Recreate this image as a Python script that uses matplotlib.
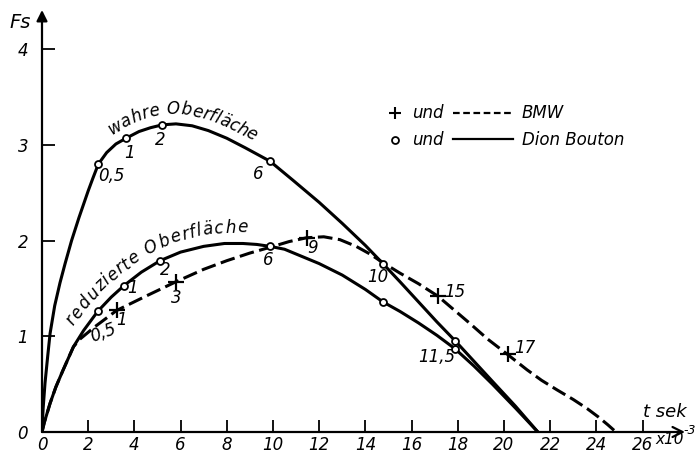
import matplotlib
matplotlib.use("Agg")
import matplotlib.pyplot as plt
import numpy as np
from matplotlib.font_manager import FontProperties
from matplotlib.textpath import TextToPath
from matplotlib.transforms import IdentityTransform

# =========================
# DATA
# =========================

# wahre Oberflaeche, Dion Bouton (solid)
wahre_t = [0, 0.05, 0.13, 0.25, 0.35, 0.55, 0.78, 1.0, 1.28, 1.6, 2.0, 2.2,
           2.44, 2.8, 3.2, 3.64, 4.2, 4.7, 5.21, 5.8, 6.5, 7.2, 8.0, 8.8,
           9.87, 10.87, 12.0, 13.0, 14.0, 14.76, 15.5, 16.3, 17.1, 17.9,
           18.7, 19.5, 20.5, 21.47]
wahre_f = [0, 0.25, 0.51, 0.80, 1.03, 1.32, 1.56, 1.76, 2.00, 2.24, 2.52, 2.65,
           2.80, 2.92, 3.01, 3.07, 3.14, 3.18, 3.21, 3.22, 3.20, 3.15, 3.07, 2.97,
           2.83, 2.63, 2.40, 2.18, 1.95, 1.76, 1.57, 1.36, 1.15, 0.95,
           0.74, 0.53, 0.27, 0]

# reduzierte Oberflaeche, Dion Bouton (solid)
red_t = [0, 0.1, 0.35, 0.6, 0.9, 1.36, 1.8, 2.41, 3.0, 3.55, 4.3, 5.11, 6.0,
         7.0, 7.9, 8.7, 9.3, 9.87, 10.5, 11.2, 12.0, 13.0, 14.0, 14.76, 15.5,
         16.3, 17.1, 17.88, 18.7, 19.5, 20.5, 21.47]
red_f = [0, 0.10, 0.30, 0.47, 0.64, 0.89, 1.06, 1.26, 1.41, 1.53, 1.67, 1.79, 1.88,
         1.94, 1.97, 1.97, 1.96, 1.94, 1.91, 1.84, 1.76, 1.64, 1.49, 1.36, 1.26,
         1.14, 1.01, 0.87, 0.69, 0.50, 0.25, 0]

# BMW (dashed)
bmw_t = [0, 0.1, 0.35, 0.6, 0.9, 1.36, 1.64, 2.29, 3.23, 4.5, 5.8, 7.0, 8.0,
         9.0, 9.87, 10.7, 11.46, 12.2, 12.9, 13.6, 14.2, 14.76, 15.5, 16.3,
         17.14, 18.5, 19.3, 20.16, 21.0, 21.63, 22.3, 23.0, 23.6, 24.1, 24.5,
         24.85]
bmw_f = [0, 0.10, 0.30, 0.47, 0.64, 0.89, 0.97, 1.10, 1.27, 1.42, 1.57, 1.70, 1.79,
         1.87, 1.93, 1.99, 2.03, 2.04, 2.01, 1.94, 1.86, 1.77, 1.66, 1.55,
         1.42, 1.14, 0.97, 0.81, 0.65, 0.54, 0.44, 0.34, 0.245, 0.155, 0.075,
         0]

# marked points
wahre_pt_t = [2.44, 3.64, 5.21, 9.87, 14.76, 17.9]
wahre_pt_f = [2.80, 3.07, 3.21, 2.83, 1.76, 0.95]
red_pt_t = [2.41, 3.55, 5.11, 9.87, 14.76, 17.88]
red_pt_f = [1.26, 1.53, 1.79, 1.94, 1.36, 0.87]
bmw_pt_t = [3.23, 5.8, 11.46, 17.14, 20.16]
bmw_pt_f = [1.27, 1.57, 2.03, 1.42, 0.81]

x_ticks = list(range(0, 27, 2))
y_ticks = [0, 1, 2, 3, 4]

# =========================
# FIGURE
# =========================

plt.rcParams["font.family"] = ["DejaVu Sans"]
plt.rcParams["font.style"] = "italic"

fig = plt.figure(figsize=(7, 4.54), dpi=100)
ax = fig.add_axes([42 / 700, 22 / 454, 643 / 700, 422 / 454])
ax.set_xlim(0, 27.84)
ax.set_ylim(0, 4.41)

for s in ax.spines.values():
    s.set_visible(False)

# axes with arrows
ax.annotate("", xy=(1, 0), xytext=(0, 0), xycoords="axes fraction",
            arrowprops=dict(arrowstyle="->", lw=1.6, color="black",
                            mutation_scale=18, shrinkA=0, shrinkB=0))
ax.annotate("", xy=(0, 1), xytext=(0, 0), xycoords="axes fraction",
            arrowprops=dict(arrowstyle="-|>", lw=1.6, color="black",
                            mutation_scale=16, shrinkA=0, shrinkB=0))

ax.set_xticks(x_ticks)
ax.set_xticklabels([str(v) for v in x_ticks])
ax.set_yticks(y_ticks)
ax.set_yticklabels([str(v) for v in y_ticks])
ax.tick_params(axis="x", direction="in", length=9, width=1.3, pad=3,
               labelsize=12)
ax.tick_params(axis="y", direction="in", length=9, width=1.3, pad=10,
               labelsize=12)

lw = 2.2
ax.plot(wahre_t, wahre_f, color="black", lw=lw, solid_capstyle="butt")
ax.plot(red_t, red_f, color="black", lw=lw, solid_capstyle="butt")
ax.plot(bmw_t, bmw_f, color="black", lw=lw, dashes=(4.8, 1.8))

ax.plot(wahre_pt_t, wahre_pt_f, "o", ms=5, mfc="white", mec="black",
        mew=1.3, zorder=5)
ax.plot(red_pt_t, red_pt_f, "o", ms=5, mfc="white", mec="black",
        mew=1.3, zorder=5)
ax.plot(bmw_pt_t, bmw_pt_f, "+", ms=11, mec="black", mew=1.6, zorder=5)

# point labels
fs = 12
labels = [
    ("0,5", 2.99, 2.68, 0), ("1", 3.81, 2.92, 0), ("2", 5.11, 3.05, 0),
    ("6", 9.35, 2.70, 0),
    ("0,5", 2.64, 1.04, 20), ("1", 3.94, 1.50, 0), ("2", 5.32, 1.69, 0),
    ("6", 9.78, 1.80, 0),
    ("1", 3.46, 1.17, 0), ("3", 5.80, 1.40, 0), ("9", 11.73, 1.92, 0),
    ("10", 14.55, 1.62, 0), ("15", 17.88, 1.46, 0), ("17", 20.91, 0.88, 0),
    ("11,5", 17.10, 0.78, 0),
]
for txt, x, y, r in labels:
    ax.text(x, y, txt, fontsize=fs, ha="center", va="center", rotation=r)


# curve names written along the curves
def text_along(xs, ys, text, start_x, offset, size=12, spacing=1.0):
    pts = ax.transData.transform(np.column_stack([xs, ys]))
    seg = np.hypot(np.diff(pts[:, 0]), np.diff(pts[:, 1]))
    arc = np.concatenate([[0], np.cumsum(seg)])
    s0 = np.interp(start_x, xs, arc)
    prop = FontProperties(family="DejaVu Sans", style="italic", size=size)
    ttp = TextToPath()
    scale = fig.dpi / 72.0
    pos = s0
    for ch in text:
        w = ttp.get_text_width_height_descent(ch, prop, ismath=False)[0]
        w = w * scale * spacing
        sc = pos + w / 2
        px = np.interp(sc, arc, pts[:, 0])
        py = np.interp(sc, arc, pts[:, 1])
        ax1 = np.interp(sc - 8, arc, pts[:, 0])
        ay1 = np.interp(sc - 8, arc, pts[:, 1])
        ax2 = np.interp(sc + 8, arc, pts[:, 0])
        ay2 = np.interp(sc + 8, arc, pts[:, 1])
        ang = np.arctan2(ay2 - ay1, ax2 - ax1)
        nx, ny = -np.sin(ang), np.cos(ang)
        ax.text(px + nx * offset, py + ny * offset, ch, fontproperties=prop,
                transform=IdentityTransform(), ha="center", va="baseline",
                rotation=np.degrees(ang), rotation_mode="anchor")
        pos += w


text_along(wahre_t, wahre_f, "wahre Oberfläche", 3.25, 10, spacing=0.95)
text_along(red_t, red_f, "reduzierte Oberfläche", 1.75, 11, spacing=1.08)

# legend
ax.plot([15.28], [3.33], "+", ms=9, mec="black", mew=1.5)
ax.text(16.71, 3.33, "und", fontsize=fs, ha="center", va="center")
ax.plot([17.79, 20.39], [3.33, 3.33], color="black", lw=1.6, dashes=(3, 1.6))
ax.text(20.78, 3.33, "BMW", fontsize=fs, ha="left", va="center")
ax.plot([15.28], [3.05], "o", ms=5, mfc="white", mec="black", mew=1.3)
ax.text(16.71, 3.05, "und", fontsize=fs, ha="center", va="center")
ax.plot([17.79, 20.39], [3.06, 3.06], color="black", lw=1.6)
ax.text(20.78, 3.05, "Dion Bouton", fontsize=fs, ha="left", va="center")

# axis titles
fig.text(20 / 700, 1 - 22 / 454, "Fs", fontsize=14, ha="center", va="center")
ax.text(26.0, 0.21, "t sek", fontsize=13, ha="left", va="center")
fig.text(655 / 700, 1 - 440 / 454, "x10", fontsize=11, ha="left",
         va="center")
fig.text(683 / 700, 1 - 431 / 454, "-3", fontsize=9, ha="left",
         va="center")

fig.savefig("out.png", dpi=100)
